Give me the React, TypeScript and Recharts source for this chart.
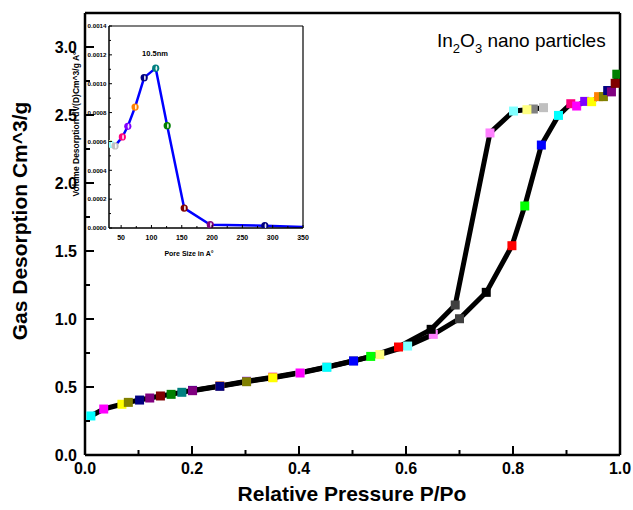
import React from 'react';
import { LineChart, Line, XAxis, YAxis, ReferenceLine } from 'recharts';

// ---- Main isotherm data (P/Po vs gas desorption) ----
const adsX = [0.011, 0.035, 0.069, 0.081, 0.102, 0.121, 0.141, 0.161, 0.181, 0.201, 0.252, 0.302, 0.351, 0.402, 0.452, 0.502, 0.551, 0.603, 0.651, 0.700, 0.750, 0.798, 0.822, 0.853, 0.885, 0.908, 0.919, 0.934, 0.947, 0.960, 0.969, 0.977, 0.984, 0.991, 0.994];
const adsY = [0.287, 0.338, 0.373, 0.387, 0.404, 0.419, 0.434, 0.446, 0.461, 0.475, 0.508, 0.542, 0.572, 0.606, 0.647, 0.693, 0.738, 0.801, 0.887, 1.002, 1.196, 1.539, 1.831, 2.279, 2.497, 2.583, 2.566, 2.600, 2.598, 2.635, 2.635, 2.680, 2.670, 2.733, 2.800];
const adsColors = ['#00FFFF', '#FF00FF', '#FFFF00', '#808000', '#000080', '#800080', '#800000', '#008000', '#008080', '#0000A0', '#FF8000', '#8000FF', '#FF0080', '#FFFFFF', '#C0C0C0', '#808080', '#FFFF80', '#80FFFF', '#FF80FF', '#404040', '#000000', '#FF0000', '#00FF00', '#0000FF', '#00FFFF', '#FF0080', '#FF00FF', '#8000FF', '#FFFF00', '#FF8000', '#808000', '#000080', '#800080', '#800000', '#008000'];

const desX = [0.857, 0.838, 0.826, 0.801, 0.757, 0.692, 0.647, 0.586, 0.534, 0.502, 0.452, 0.402, 0.351, 0.302, 0.252, 0.201];
const desY = [2.554, 2.544, 2.539, 2.529, 2.368, 1.103, 0.924, 0.794, 0.725, 0.691, 0.645, 0.603, 0.568, 0.539, 0.505, 0.473];
const desColors = ['#C0C0C0', '#808080', '#FFFF80', '#80FFFF', '#FF80FF', '#404040', '#000000', '#FF0000', '#00FF00', '#0000FF', '#00FFFF', '#FF00FF', '#FFFF00', '#808000', '#000080', '#800080'];

const mainXTicks = [0, 0.1, 0.2, 0.3, 0.4, 0.5, 0.6, 0.7, 0.8, 0.9, 1.0];
const mainYTicks = [0, 0.25, 0.5, 0.75, 1.0, 1.25, 1.5, 1.75, 2.0, 2.25, 2.5, 2.75, 3.0];

// ---- Inset pore size distribution ----
const poreX = [31, 33, 40, 52, 61, 73, 88, 107, 126, 154, 197, 287, 350];
const poreY = [0.000585, 0.00058, 0.000569, 0.000631, 0.000705, 0.000838, 0.001042, 0.001108, 0.000709, 0.000138, 0.000023, 0.000016, 0.000007];
const poreColors = ['#FFFF80', '#80FFFF', '#C0C0C0', '#FF0080', '#8000FF', '#FF8000', '#000080', '#008080', '#008000', '#800000', '#800080', '#000080', 'none'];

const insetXTicks = [50, 75, 100, 125, 150, 175, 200, 225, 250, 275, 300, 325, 350];
const insetYTicks = [0, 0.0001, 0.0002, 0.0003, 0.0004, 0.0005, 0.0006, 0.0007, 0.0008, 0.0009, 0.001, 0.0011, 0.0012, 0.0013, 0.0014];

const adsData = adsX.map((x, i) => ({ x, y: adsY[i] }));
const desData = desX.map((x, i) => ({ x, y: desY[i] }));
const poreData = poreX.map((x, i) => ({ x, y: poreY[i] }));

const FONT = '"Liberation Sans", Arial, Helvetica, sans-serif';

const squareDot = (colors: string[]) => (props: any) => {
  const { cx, cy, index } = props;
  if (cx == null || cy == null) return <g key={`s${index}`} />;
  return <rect key={`s${index}`} x={cx - 4.5} y={cy - 4.5} width={9} height={9} fill={colors[index]} />;
};

const circleDot = (colors: string[]) => (props: any) => {
  const { cx, cy, index } = props;
  const c = colors[index];
  if (cx == null || cy == null || c === 'none') return <g key={`c${index}`} />;
  return (
    <g key={`c${index}`}>
      <circle cx={cx} cy={cy} r={3.6} fill={c} />
      <ellipse cx={cx + 0.7} cy={cy} rx={0.9} ry={2.5} fill="#fff" opacity={0.9} />
    </g>
  );
};

const MainXTick = (props: any) => {
  const { x, y, payload } = props;
  const v = payload.value;
  const major = Math.round(v * 10) % 2 === 0;
  return (
    <g>
      <line x1={x} x2={x} y1={y} y2={y - (major ? 9 : 5)} stroke="#000" strokeWidth={2} />
      {major && (
        <text x={x} y={y + 19} textAnchor="middle" fontSize={16} fontWeight="bold" fontFamily={FONT} fill="#000">
          {v.toFixed(1)}
        </text>
      )}
    </g>
  );
};

const MainYTick = (props: any) => {
  const { x, y, payload } = props;
  const v = payload.value;
  const major = Math.round(v * 4) % 2 === 0;
  return (
    <g>
      <line x1={x} x2={x + (major ? 9 : 5)} y1={y} y2={y} stroke="#000" strokeWidth={2} />
      {major && (
        <text x={x - 8} y={y} dy="0.36em" textAnchor="end" fontSize={16} fontWeight="bold" fontFamily={FONT} fill="#000">
          {v.toFixed(1)}
        </text>
      )}
    </g>
  );
};

const InsetXTick = (props: any) => {
  const { x, y, payload } = props;
  const v = payload.value;
  const major = v % 50 === 0;
  return (
    <g>
      <line x1={x} x2={x} y1={y} y2={y - (major ? 3 : 2)} stroke="#000" strokeWidth={1} />
      {major && (
        <text x={x} y={y + 11.5} textAnchor="middle" fontSize={7} fontWeight="bold" fontFamily={FONT} fill="#000">
          {String(v)}
        </text>
      )}
    </g>
  );
};

const InsetYTick = (props: any) => {
  const { x, y, payload } = props;
  const v = payload.value;
  const major = Math.round(v * 10000) % 2 === 0;
  return (
    <g>
      <line x1={x} x2={x + (major ? 3 : 2)} y1={y} y2={y} stroke="#000" strokeWidth={1} />
      {major && (
        <text x={x - 2.5} y={y} dy="0.36em" textAnchor="end" fontSize={6.2} fontWeight="bold" fontFamily={FONT} fill="#000">
          {v.toFixed(4)}
        </text>
      )}
    </g>
  );
};

export default function App() {
  return (
    <div style={{ position: 'absolute', left: 0, top: 0, width: 633, height: 510, background: '#fff' }}>
      <div style={{ position: 'absolute', left: 0, top: 0 }}>
        <LineChart width={633} height={510} margin={{ top: 13, right: 13, left: 25, bottom: 25 }}>
          <XAxis
            type="number"
            dataKey="x"
            domain={[0, 1]}
            ticks={mainXTicks}
            interval={0}
            allowDataOverflow
            tickSize={0}
            tickMargin={0}
            tickLine={false}
            tick={MainXTick}
            axisLine={{ stroke: '#000', strokeWidth: 2.5 }}
            height={30}
          />
          <YAxis
            type="number"
            domain={[0, 3.25]}
            ticks={mainYTicks}
            interval={0}
            allowDataOverflow
            tickSize={0}
            tickMargin={0}
            tickLine={false}
            tick={MainYTick}
            axisLine={{ stroke: '#000', strokeWidth: 2.5 }}
            width={60}
          />
          <ReferenceLine x={1} stroke="#000" strokeWidth={2.5} />
          <ReferenceLine y={3.25} stroke="#000" strokeWidth={2.5} />
          <Line
            data={adsData}
            dataKey="y"
            type="linear"
            stroke="#000"
            strokeWidth={5}
            strokeLinejoin="round"
            dot={squareDot(adsColors)}
            activeDot={false}
            isAnimationActive={false}
          />
          <Line
            data={desData}
            dataKey="y"
            type="linear"
            stroke="#000"
            strokeWidth={5}
            strokeLinejoin="round"
            dot={squareDot(desColors)}
            activeDot={false}
            isAnimationActive={false}
          />
        </LineChart>
      </div>
      <div style={{ position: 'absolute', left: 0, top: 0 }}>
        <LineChart width={320} height={262} margin={{ top: 26, right: 17, left: 49, bottom: 4 }}>
          <XAxis
            type="number"
            dataKey="x"
            domain={[30, 350]}
            ticks={insetXTicks}
            interval={0}
            allowDataOverflow
            tickSize={0}
            tickMargin={0}
            tickLine={false}
            tick={InsetXTick}
            axisLine={{ stroke: '#000', strokeWidth: 1.5 }}
            height={30}
          />
          <YAxis
            type="number"
            domain={[0, 0.0014]}
            ticks={insetYTicks}
            interval={0}
            allowDataOverflow
            tickSize={0}
            tickMargin={0}
            tickLine={false}
            tick={InsetYTick}
            axisLine={{ stroke: '#000', strokeWidth: 1.5 }}
            width={60}
          />
          <ReferenceLine x={350} stroke="#000" strokeWidth={1.2} />
          <ReferenceLine y={0.0014} stroke="#000" strokeWidth={1.2} />
          <Line
            data={poreData}
            dataKey="y"
            type="linear"
            stroke="#0000FF"
            strokeWidth={2.5}
            strokeLinejoin="round"
            dot={circleDot(poreColors)}
            activeDot={false}
            isAnimationActive={false}
          />
        </LineChart>
      </div>
      <svg width={633} height={510} style={{ position: 'absolute', left: 0, top: 0, pointerEvents: 'none' }}>
        <text x={27} y={221} transform="rotate(-90 27 221)" textAnchor="middle" fontSize={21} fontWeight="bold" fontFamily={FONT} fill="#000">
          Gas Desorption Cm^3/g
        </text>
        <text x={352} y={501} textAnchor="middle" fontSize={21} fontWeight="bold" fontFamily={FONT} fill="#000">
          Relative Pressure P/Po
        </text>
        <text x={437} y={47} fontSize={19} fontFamily={FONT} fill="#000">
          In<tspan fontSize={13} dy={6}>2</tspan><tspan dy={-6}>O</tspan><tspan fontSize={13} dy={6}>3</tspan><tspan dy={-6}> nano particles</tspan>
        </text>
        <text x={155} y={56} textAnchor="middle" fontSize={7.5} fontWeight="bold" fontFamily={FONT} fill="#000">
          10.5nm
        </text>
        <text x={79} y={124} transform="rotate(-90 79 124)" textAnchor="middle" fontSize={8.5} fontWeight="bold" fontFamily={FONT} fill="#000">
          Volume Desorption dV(D)Cm^3/g A°
        </text>
        <text x={189} y={255.5} textAnchor="middle" fontSize={7} fontWeight="bold" fontFamily={FONT} fill="#000">
          Pore Size in A°
        </text>
      </svg>
    </div>
  );
}
